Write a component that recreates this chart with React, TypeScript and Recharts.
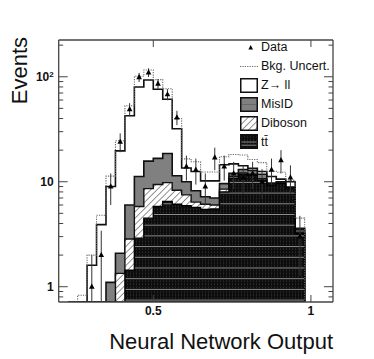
import React from 'react';
import { ComposedChart, Area, Line, Scatter, ErrorBar, XAxis, YAxis, Legend, Label } from 'recharts';

// ---- data ----
const binEdges = [0.26, 0.29, 0.32, 0.35, 0.38, 0.41, 0.44, 0.47, 0.5, 0.53, 0.56, 0.59, 0.62, 0.65, 0.68, 0.71, 0.74, 0.77, 0.8, 0.83, 0.86, 0.89, 0.92, 0.95, 0.98];
const ttbar = [0, 0, 0, 0, 0, 1.44, 2.9, 4.5, 5.8, 6.5, 6.1, 5.9, 5.7, 5.45, 5.5, 8.0, 10.8, 11.8, 11.5, 10.4, 9.3, 9.6, 8.7, 3.2];
const diboson = [0, 0, 0, 0, 1.34, 1.41, 2.9, 4.1, 3.6, 3.3, 2.2, 1.6, 0.7, 0.65, 0.5, 0.5, 0.4, 0.3, 0.3, 0.3, 0.2, 0.2, 0.1, 0.1];
const misID = [0, 0, 0, 1.1, 0.74, 3.15, 5.4, 7.1, 7.3, 8.8, 3.1, 2.5, 1.8, 1.1, 1.0, 1.1, 0.8, 1.0, 1.0, 1.1, 0.2, 0.2, 0.1, 0.2];
const zll = [0, 1.6, 3.9, 7.9, 17.6, 36.5, 68.8, 77.3, 59.3, 42.4, 20.6, 3.5, 4.3, 3.0, 3.2, 4.9, 2.8, 1.1, 0.6, 0.7, 1.5, 0.6, 1.1, 0.1];
const bkgUncertUp = [0.83, 2.0, 4.8, 11.3, 24.6, 53, 101, 116, 94, 77, 40, 16.5, 15.5, 12.4, 12.4, 17.3, 18.2, 18.0, 16.3, 15.2, 12.6, 12.3, 10.3, 4.5];
const dataCounts = [0, 1, 2, 9, 24, 49, 99, 110, 86, 68, 41, 14, 13, 9, 17, 14, 12, 11, 12, 10, 13, 16, 11, 3];

const yTicks = [0.8, 0.9, 1, 2, 3, 4, 5, 6, 7, 8, 9, 10, 20, 30, 40, 50, 60, 70, 80, 90, 100, 200];
const yMajorTicks = [1, 10, 100];
const yMajorLabels: [string, string][] = [['1', ''], ['10', ''], ['10', '2']];
const xTicks = [0.5, 1];
const xTickLabels = ['0.5', '1'];

const legendLabels = ['Data', 'Bkg. Uncert.', 'Z\u2192 ll', 'MisID', 'Diboson', 'tt\u0304'];

const Y_MIN = 0.715;
const Y_MAX = 224;
const X_MIN = 0.2;
const X_MAX = 1.07;

// ---- tables built from the arrays ----
const clampY = (v: number) => Math.max(v, Y_MIN);
const leadEdge = binEdges[0] - (binEdges[1] - binEdges[0]);
const histRows: any[] = [{ x: leadEdge, tt: Y_MIN, db: Y_MIN, mis: Y_MIN, tot: Y_MIN, up: Y_MIN }];
for (let k = 0; k < ttbar.length; k++) {
  const tt = ttbar[k];
  const db = tt + diboson[k];
  const mis = db + misID[k];
  const tot = mis + zll[k];
  histRows.push({ x: binEdges[k], tt: clampY(tt), db: clampY(db), mis: clampY(mis), tot: clampY(tot), up: clampY(bkgUncertUp[k]) });
}
histRows.push({ x: binEdges[binEdges.length - 1], tt: Y_MIN, db: Y_MIN, mis: Y_MIN, tot: Y_MIN, up: Y_MIN });

const dataRows = dataCounts
  .map((n, k) => ({
    x: (binEdges[k] + binEdges[k + 1]) / 2,
    y: n,
    err: [Math.min(Math.sqrt(n), n - Y_MIN), Math.sqrt(n)],
  }))
  .filter((r) => r.y > 0);

const FONT = '"Liberation Sans", Arial, Helvetica, sans-serif';
const FRAME = '#444';

const LeftTick = (props: any) => {
  const { x, y, payload } = props;
  const idx = yMajorTicks.indexOf(payload.value);
  const major = idx >= 0;
  return (
    <g>
      <line x1={x} x2={x + (major ? 9 : 4.5)} y1={y} y2={y} stroke={FRAME} strokeWidth={1} />
      {major && (
        <text x={x - 5} y={y} dy="0.36em" textAnchor="end" fontFamily={FONT} fontWeight="bold" fontSize={12} fill="#111">
          {yMajorLabels[idx][0]}
          {yMajorLabels[idx][1] && (
            <tspan fontSize={8} dy="-0.55em">{yMajorLabels[idx][1]}</tspan>
          )}
        </text>
      )}
    </g>
  );
};

const RightTick = (props: any) => {
  const { x, y, payload } = props;
  const major = yMajorTicks.indexOf(payload.value) >= 0;
  return <line x1={x} x2={x - (major ? 9 : 4.5)} y1={y} y2={y} stroke={FRAME} strokeWidth={1} />;
};

const BottomTick = (props: any) => {
  const { x, y, payload } = props;
  const idx = xTicks.indexOf(payload.value);
  return (
    <g>
      <line x1={x} x2={x} y1={y} y2={y - 7} stroke={FRAME} strokeWidth={1} />
      <text x={x} y={y + 13} textAnchor="middle" fontFamily={FONT} fontWeight="bold" fontSize={12} fill="#111">
        {xTickLabels[idx]}
      </text>
    </g>
  );
};

const TopTick = (props: any) => {
  const { x, y } = props;
  return <line x1={x} x2={x} y1={y} y2={y + 7} stroke={FRAME} strokeWidth={1} />;
};

const Triangle = (props: any) => {
  const { cx, cy } = props;
  if (cx == null || cy == null) return null;
  return <polygon points={`${cx},${cy - 3.2} ${cx - 2.8},${cy + 2} ${cx + 2.8},${cy + 2}`} fill="#000" />;
};

const Swatch = ({ kind }: { kind: number }) => {
  const w = 18;
  const h = 15;
  if (kind === 0) {
    return (
      <svg width={w} height={h}>
        <polygon points="10.7,5 8.4,9.5 13,9.5" fill="#000" />
      </svg>
    );
  }
  if (kind === 1) {
    return (
      <svg width={w} height={h}>
        <line x1={0} x2={18} y1={7.5} y2={7.5} stroke="#666" strokeWidth={1} strokeDasharray="1.2 1.2" />
      </svg>
    );
  }
  const fills = ['', '', '#ffffff', '#808080', 'url(#dibPat)', 'url(#ttPat)'];
  return (
    <svg width={w} height={h}>
      <rect x={0.75} y={0.75} width={16.5} height={13.5} fill={fills[kind]} stroke="#111" strokeWidth={1.5} />
      {kind === 3 && <line x1={1.5} x2={16.5} y1={7.5} y2={7.5} stroke="#444" strokeWidth={0.8} strokeDasharray="1 1" />}
      {kind === 5 && <line x1={1.5} x2={16.5} y1={8} y2={8} stroke="#999" strokeWidth={0.9} />}
    </svg>
  );
};

const LegendBox = () => (
  <div style={{ fontFamily: FONT, fontSize: 12.5, color: '#111' }}>
    {legendLabels.map((lab, i) => (
      <div key={i} style={{ display: 'flex', alignItems: 'center', height: 18.9 }}>
        <Swatch kind={i} />
        <span style={{ marginLeft: 3, whiteSpace: 'nowrap' }}>{lab}</span>
      </div>
    ))}
  </div>
);

export default function App() {
  return (
    <div style={{ position: 'absolute', left: 0, top: 0, width: 374, height: 359, background: '#fff' }}>
      <svg width={0} height={0} style={{ position: 'absolute' }}>
        <defs>
          <pattern id="ttPat" patternUnits="userSpaceOnUse" width={3} height={10.7}>
            <rect width={3} height={10.7} fill="#0d0d0d" />
            <rect x={1} y={2.5} width={1} height={1} fill="#3c3c3c" />
            <rect x={1} y={5.5} width={1} height={1} fill="#3c3c3c" />
            <rect x={1} y={8.5} width={1} height={1} fill="#3c3c3c" />
            <rect x={0} y={0} width={3} height={0.9} fill="#9a9a9a" />
          </pattern>
          <pattern id="dibPat" patternUnits="userSpaceOnUse" width={4.5} height={4.5} patternTransform="rotate(45)">
            <rect width={4.5} height={4.5} fill="#fff" />
            <line x1={2.25} y1={0} x2={2.25} y2={4.5} stroke="#777" strokeWidth={0.8} />
          </pattern>
        </defs>
      </svg>
      <ComposedChart width={374} height={359} data={histRows} margin={{ top: 39, right: 40, bottom: 56, left: 0 }}>
        <Area type="stepAfter" dataKey="tot" baseValue={Y_MIN} fill="#fff" fillOpacity={1} stroke="#111" strokeWidth={1.6} isAnimationActive={false} dot={false} activeDot={false} />
        <Line type="stepAfter" dataKey="up" stroke="#666" strokeWidth={1.1} strokeDasharray="1.2 1.2" dot={false} activeDot={false} isAnimationActive={false} />
        <Area type="stepAfter" dataKey="mis" baseValue={Y_MIN} fill="#808080" fillOpacity={1} stroke="#111" strokeWidth={1.6} isAnimationActive={false} dot={false} activeDot={false} />
        <Area type="stepAfter" dataKey="db" baseValue={Y_MIN} fill="url(#dibPat)" fillOpacity={1} stroke="#111" strokeWidth={1.4} isAnimationActive={false} dot={false} activeDot={false} />
        <Area type="stepAfter" dataKey="tt" baseValue={Y_MIN} fill="url(#ttPat)" fillOpacity={1} stroke="#000" strokeWidth={1.4} isAnimationActive={false} dot={false} activeDot={false} />
        <Scatter data={dataRows} dataKey="y" shape={<Triangle />} isAnimationActive={false}>
          <ErrorBar dataKey="err" direction="y" width={0} stroke="#333" strokeWidth={1} />
        </Scatter>

        <XAxis
          dataKey="x"
          type="number"
          domain={[X_MIN, X_MAX]}
          ticks={xTicks}
          interval={0}
          allowDataOverflow
          height={1}
          tickSize={0}
          tickMargin={0}
          tickLine={false}
          tick={<BottomTick />}
          axisLine={{ stroke: FRAME, strokeWidth: 1.3 }}
        >
          <Label
            content={() => (
              <text x={333} y={349} textAnchor="end" fontFamily={FONT} fontSize={22} fill="#111">
                Neural Network Output
              </text>
            )}
          />
        </XAxis>
        <XAxis
          xAxisId="top"
          orientation="top"
          dataKey="x"
          type="number"
          domain={[X_MIN, X_MAX]}
          ticks={xTicks}
          interval={0}
          allowDataOverflow
          height={1}
          tickSize={0}
          tickMargin={0}
          tickLine={false}
          tick={<TopTick />}
          axisLine={{ stroke: FRAME, strokeWidth: 1.3 }}
        />
        <YAxis
          type="number"
          scale="log"
          domain={[Y_MIN, Y_MAX]}
          ticks={yTicks}
          interval={0}
          allowDataOverflow
          width={58.7}
          tickSize={0}
          tickMargin={0}
          tickLine={false}
          tick={<LeftTick />}
          axisLine={{ stroke: FRAME, strokeWidth: 1.3 }}
        >
          <Label
            content={() => (
              <text x={26.5} y={37} transform="rotate(-90, 26.5, 37)" textAnchor="end" fontFamily={FONT} fontSize={22} fill="#111">
                Events
              </text>
            )}
          />
        </YAxis>
        <YAxis
          yAxisId="right"
          orientation="right"
          type="number"
          scale="log"
          domain={[Y_MIN, Y_MAX]}
          ticks={yTicks}
          interval={0}
          allowDataOverflow
          width={1}
          tickSize={0}
          tickMargin={0}
          tickLine={false}
          tick={<RightTick />}
          axisLine={{ stroke: FRAME, strokeWidth: 1.3 }}
        />
        <Legend
          layout="vertical"
          align="center"
          verticalAlign="middle"
          content={() => <LegendBox />}
          wrapperStyle={{ position: 'absolute', left: 240, top: 38, width: 120, height: 115 }}
        />
      </ComposedChart>
    </div>
  );
}
